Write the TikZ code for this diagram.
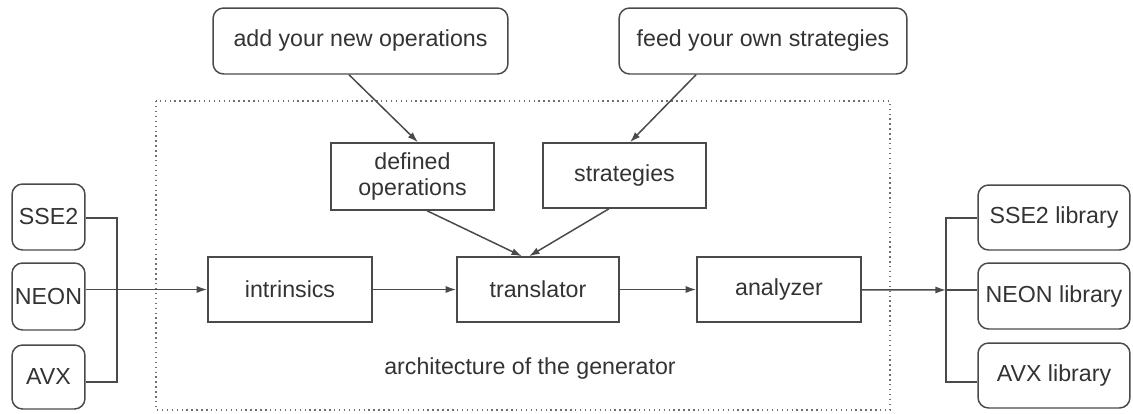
\documentclass[tikz,border=0pt]{standalone}
\usepackage{fontspec}
\setmainfont{Liberation Sans}
\usetikzlibrary{shapes,arrows.meta}
\definecolor{edge}{HTML}{4A4A4A}
\definecolor{ink}{HTML}{333333}
\tikzstyle{blk}=[draw=edge,line width=0.85pt,text=ink,inner sep=0pt,align=center,font=\fontsize{13.2}{14.5}\selectfont]
\tikzstyle{rblk}=[blk,rounded corners=6pt]
\tikzstyle{a}=[-{Latex[length=6pt,width=4pt]},draw=edge,line width=0.85pt]
\tikzstyle{l}=[draw=edge,line width=0.85pt]

\begin{document}
\begin{tikzpicture}[x=0.02cm,y=-0.02cm]
    \useasboundingbox (0,0) rectangle (1133,413);
    \draw[edge!80,dotted,line width=0.8pt] (156,101) rectangle (890,410);
    % inputs
    \node[rblk,minimum width=1.46cm,minimum height=1.32cm] (sse) at (48.5,217) {SSE2};
    \node[rblk,minimum width=1.46cm,minimum height=1.34cm] (neon) at (48.5,296.5) {NEON};
    \node[rblk,minimum width=1.46cm,minimum height=1.28cm] (avx) at (48.5,377) {AVX};
    % user side
    \node[rblk,minimum width=5.9cm,minimum height=1.32cm] (addops) at (360.5,41) {add your new operations};
    \node[rblk,minimum width=5.76cm,minimum height=1.32cm] (feed) at (763,41) {feed your own strategies};
    % generator
    \node[blk,minimum width=3.26cm,minimum height=1.34cm] (defops) at (412.5,176.5) {defined\\operations};
    \node[blk,minimum width=3.26cm,minimum height=1.3cm] (strat) at (624.5,175.5) {strategies};
    \node[blk,minimum width=3.28cm,minimum height=1.3cm] (intr) at (290,289.5) {intrinsics};
    \node[blk,minimum width=3.24cm,minimum height=1.3cm] (trans) at (538,289.5) {translator};
    \node[blk,minimum width=3.28cm,minimum height=1.3cm] (ana) at (779,289.5) {analyzer};
    \node[text=ink,font=\fontsize{13.2}{14.5}\selectfont] (arch) at (530,368) {architecture of the generator};
    % outputs
    \node[rblk,minimum width=3.04cm,minimum height=1.3cm] (sselib) at (1054,217.5) {SSE2 library};
    \node[rblk,minimum width=3.04cm,minimum height=1.32cm] (neonlib) at (1054,296) {NEON library};
    \node[rblk,minimum width=3.04cm,minimum height=1.3cm] (avxlib) at (1054,375.5) {AVX library};
    \coordinate (jltop) at (117,218);
    \coordinate (jlbot) at (117,382);
    \coordinate (jr) at (946,290);
    \coordinate (jrtop) at (946,218);
    \coordinate (jrbot) at (946,382);
    \draw[l] (sse.east |- jltop) -- (jltop) -- (jlbot) -- (avx.east |- jlbot);
    \draw[a] (neon.east |- intr.west) -- (intr.west);
    \draw[a] (intr) -- (trans);
    \draw[a] (trans) -- (ana);
    \draw[a] (ana) -- (jr);
    \draw[l] (jr) -- (neonlib.west |- jr);
    \draw[l] (sselib.west |- jrtop) -- (jrtop) -- (jrbot) -- (avxlib.west |- jrbot);
    \draw[a] ([xshift=-0.23cm]addops.south) -- ([xshift=0.11cm]defops.north);
    \draw[a] ([xshift=-1.34cm]feed.south) -- ([xshift=0.11cm]strat.north);
    \draw[a] ([xshift=0.29cm]defops.south) -- ([xshift=-0.32cm]trans.north);
    \draw[a] ([xshift=-0.31cm]strat.south) -- ([xshift=-0.18cm]trans.north);
\end{tikzpicture}
\end{document}
